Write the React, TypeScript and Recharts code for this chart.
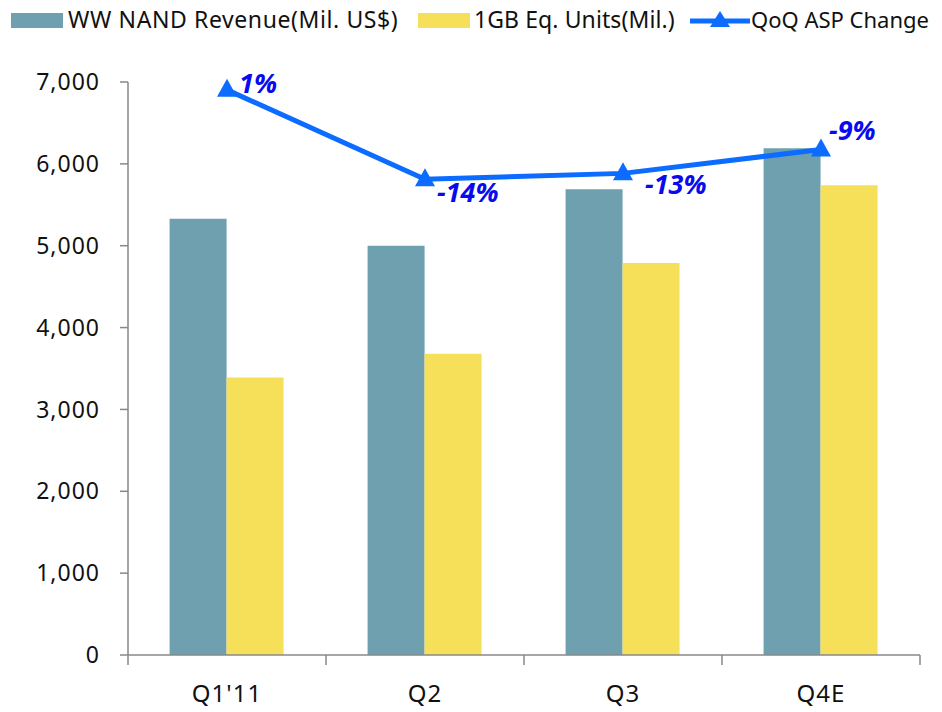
import React from 'react';
import { ComposedChart, Bar, Line, XAxis, YAxis, LabelList } from 'recharts';

const categories = ["Q1'11", 'Q2', 'Q3', 'Q4E'];
const revenue = [5330, 5000, 5690, 6190];
const units = [3390, 3680, 4790, 5740];
const aspChange = [1, -14, -13, -9];
const yTicks = [0, 1000, 2000, 3000, 4000, 5000, 6000, 7000];

const data = categories.map((name, i) => ({
  name,
  revenue: revenue[i],
  units: units[i],
  asp: aspChange[i],
}));

const FONT = '"Noto Sans", "Open Sans", sans-serif';
const TEAL = '#6FA0AF';
const YELLOW = '#F6E05A';
const BLUE = '#0B6CFF';
const LABEL_BLUE = '#0A0AEE';
const AXIS = '#888888';
const PLOT_W = 792;

const labelOffsets = [
  { dx: 12, dy: -4 },
  { dx: 12, dy: 15 },
  { dx: 22, dy: 13 },
  { dx: 8, dy: -17 },
];

const Triangle = (props: any) => {
  const { cx, cy } = props;
  if (cx == null || cy == null) return null;
  return (
    <polygon
      points={`${cx},${cy - 11} ${cx - 10},${cy + 7} ${cx + 10},${cy + 7}`}
      fill={BLUE}
    />
  );
};

const XTick = (props: any) => {
  const { x, y, payload, index } = props;
  const half = PLOT_W / categories.length / 2;
  return (
    <g>
      <line x1={x - half} y1={y - 8} x2={x - half} y2={y + 2} stroke={AXIS} strokeWidth={1.5} />
      {index === categories.length - 1 && (
        <line x1={x + half} y1={y - 8} x2={x + half} y2={y + 2} stroke={AXIS} strokeWidth={1.5} />
      )}
      <text
        x={x}
        y={y + 33}
        textAnchor="middle"
        dominantBaseline="middle"
        fontSize={24}
        letterSpacing={1}
        fill="#111"
        fontFamily={FONT}
      >
        {payload.value}
      </text>
    </g>
  );
};

const PctLabel = (props: any) => {
  const { x, y, value, index } = props;
  const off = labelOffsets[index] || { dx: 10, dy: 0 };
  return (
    <text
      x={x + off.dx}
      y={y + off.dy}
      dominantBaseline="middle"
      fontSize={27}
      fontWeight="bold"
      fontStyle="italic"
      fill={LABEL_BLUE}
      fontFamily={FONT}
    >
      {`${value}%`}
    </text>
  );
};

const LegendRow = () => (
  <div
    style={{
      position: 'absolute',
      top: 3,
      left: 0,
      width: 942,
      height: 34,
      fontFamily: FONT,
      fontSize: 23,
      color: '#111',
    }}
  >
    <div style={{ position: 'absolute', left: 11, top: 10, width: 52, height: 15, background: TEAL }} />
    <span style={{ position: 'absolute', left: 68, top: 0, whiteSpace: 'nowrap', letterSpacing: 0.6 }}>
      WW NAND Revenue(Mil. US$)
    </span>
    <div style={{ position: 'absolute', left: 418, top: 10, width: 52, height: 15, background: YELLOW }} />
    <span style={{ position: 'absolute', left: 474, top: 0, whiteSpace: 'nowrap', letterSpacing: 0.1 }}>
      1GB Eq. Units(Mil.)
    </span>
    <svg style={{ position: 'absolute', left: 690, top: 4 }} width={60} height={26}>
      <line x1={0} y1={14} x2={60} y2={14} stroke={BLUE} strokeWidth={5} />
      <polygon points="30,4 20,20 40,20" fill={BLUE} />
    </svg>
    <span style={{ position: 'absolute', left: 751, top: 1, whiteSpace: 'nowrap', fontSize: 22 }}>
      QoQ ASP Change
    </span>
  </div>
);

const App: React.FC = () => {
  return (
    <div style={{ position: 'absolute', left: 0, top: 0, width: 942, height: 712, background: '#fff' }}>
      <LegendRow />
      <ComposedChart
        width={942}
        height={712}
        data={data}
        margin={{ top: 82, right: 22, left: 0, bottom: 0 }}
        barCategoryGap="21%"
        barGap={0}
      >
        <XAxis
          dataKey="name"
          height={57}
          axisLine={{ stroke: AXIS, strokeWidth: 1.5 }}
          tickLine={false}
          tick={<XTick />}
          interval={0}
        />
        <YAxis
          yAxisId="left"
          width={128}
          domain={[0, 7000]}
          ticks={yTicks}
          tickFormatter={(v: number) => v.toLocaleString('en-US')}
          axisLine={{ stroke: AXIS, strokeWidth: 1.5 }}
          tickLine={{ stroke: AXIS, strokeWidth: 1.5 }}
          tickSize={8}
          tickMargin={20}
          tick={{ fontSize: 23, fill: '#111', fontFamily: FONT, letterSpacing: 1 }}
        />
        <YAxis yAxisId="right" orientation="right" hide domain={[-93.75, 2.32]} />
        <Bar yAxisId="left" dataKey="revenue" fill={TEAL} isAnimationActive={false} />
        <Bar yAxisId="left" dataKey="units" fill={YELLOW} isAnimationActive={false} />
        <Line
          yAxisId="right"
          dataKey="asp"
          stroke={BLUE}
          strokeWidth={5}
          dot={<Triangle />}
          activeDot={false}
          isAnimationActive={false}
        >
          <LabelList dataKey="asp" content={<PctLabel />} />
        </Line>
      </ComposedChart>
    </div>
  );
};

export default App;
